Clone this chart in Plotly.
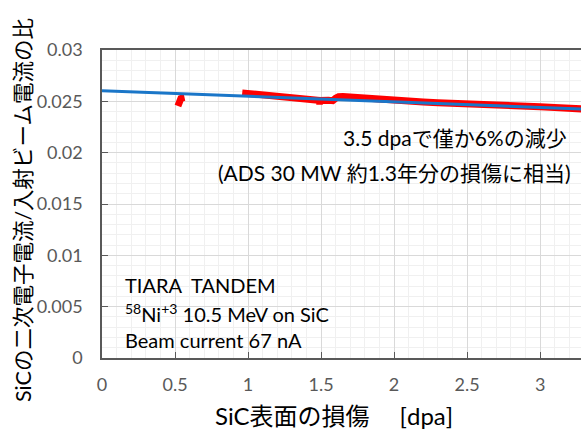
import plotly.graph_objects as go

# Measured data (red): SiC secondary electron current / beam current ratio
dpa_a = [0.52, 0.525, 0.53, 0.54, 0.555, 0.565]
ratio_a = [0.02455, 0.02480, 0.02510, 0.02528, 0.02535, 0.02538]

dpa_b = [0.96, 1.0, 1.05, 1.1, 1.15, 1.2, 1.22, 1.25, 1.3, 1.35, 1.4, 1.45, 1.48, 1.49, 1.5,
         1.55, 1.57, 1.58, 1.6, 1.62, 1.65, 1.7, 1.8, 1.9, 2.0, 2.1, 2.2, 2.3, 2.4, 2.5,
         2.6, 2.7, 2.8, 2.9, 3.0, 3.1, 3.2, 3.3]
ratio_b = [0.02582, 0.02576, 0.02570, 0.02564, 0.02557, 0.02550, 0.02538, 0.02545, 0.02538,
           0.02530, 0.02524, 0.02518, 0.02510, 0.02482, 0.02508, 0.02510, 0.02504, 0.02506,
           0.02530, 0.02545, 0.02548, 0.02542, 0.02533, 0.02515, 0.02508, 0.02500, 0.02493,
           0.02486, 0.02478, 0.02472, 0.02466, 0.02462, 0.02456, 0.02452, 0.02447, 0.02440,
           0.02433, 0.02425]

# Linear fit (blue)
fit_x = [0.0, 3.3]
fit_y = [0.02604, 0.02424]

x_ticks = [0, 0.5, 1, 1.5, 2, 2.5, 3]
x_tick_labels = ["0", "0.5", "1", "1.5", "2", "2.5", "3"]
y_ticks = [0, 0.005, 0.01, 0.015, 0.02, 0.025, 0.03]
y_tick_labels = ["0", "0.005", "0.01", "0.015", "0.02", "0.025", "0.03"]

FONT = "Lato, 'Noto Sans CJK JP', sans-serif"
AX = "#595959"

fig = go.Figure()
for xs, ys in [(dpa_a, ratio_a), (dpa_b, ratio_b)]:
    fig.add_trace(go.Scatter(x=xs, y=ys, mode="lines", line=dict(color="#ff0000", width=7),
                             showlegend=False, hoverinfo="skip"))
fig.add_trace(go.Scatter(x=fit_x, y=fit_y, mode="lines", line=dict(color="#1a76c8", width=3),
                         showlegend=False, hoverinfo="skip"))

fig.update_layout(
    width=581, height=431,
    margin=dict(l=102, r=0, t=50, b=73),
    paper_bgcolor="white", plot_bgcolor="white",
    font=dict(family=FONT, color=AX),
    xaxis=dict(range=[0, 3.28], tickvals=x_ticks, ticktext=x_tick_labels,
               showline=True, linecolor=AX, linewidth=1.5, mirror=True,
               ticks="inside", ticklen=6, tickcolor=AX, tickwidth=1,
               showgrid=True, gridcolor="#d9d9d9", gridwidth=1, zeroline=False,
               tickfont=dict(size=18, color=AX), ticklabelstandoff=10,
               minor=dict(dtick=0.1, showgrid=True, gridcolor="#f0f0f0", gridwidth=1)),
    yaxis=dict(range=[0, 0.03], tickvals=y_ticks, ticktext=y_tick_labels,
               showline=True, linecolor=AX, linewidth=1.5,
               ticks="inside", ticklen=6, tickcolor=AX, tickwidth=1,
               showgrid=True, gridcolor="#d9d9d9", gridwidth=1, zeroline=False,
               tickfont=dict(size=18, color=AX), ticklabelstandoff=14,
               minor=dict(dtick=0.001, showgrid=True, gridcolor="#f0f0f0", gridwidth=1)),
)

ann = []
# axis titles
ann.append(dict(text="SiCの二次電子電流/入射ビーム電流の比", xref="paper", yref="paper",
                x=(23 - 102)/479, y=(358 - 210)/308, xanchor="center", yanchor="middle",
                textangle=-90, showarrow=False, font=dict(size=21.5, color="black", family=FONT)))
ann.append(dict(text="SiC表面の損傷　 [dpa]", xref="paper", yref="paper",
                x=(334 - 102)/479, y=-(415 - 358)/308, xanchor="center", yanchor="middle",
                showarrow=False, font=dict(size=24, color="black", family=FONT)))
# right annotations
ann.append(dict(text="3.5 dpaで僅か6%の減少", xref="paper", yref="paper",
                x=(569 - 102)/479, y=(358 - 137)/308, xanchor="right", yanchor="middle",
                showarrow=False, font=dict(size=21, color="black", family=FONT)))
ann.append(dict(text="(ADS 30 MW 約1.3年分の損傷に相当)", xref="paper", yref="paper",
                x=(573 - 102)/479, y=(358 - 172)/308, xanchor="right", yanchor="middle",
                showarrow=False, font=dict(size=21, color="black", family=FONT)))
# bottom-left info
for txt, yc in [("TIARA  TANDEM", 285), ("<sup>58</sup>Ni<sup>+3</sup> 10.5 MeV on SiC", 313),
                ("Beam current 67 nA", 340)]:
    ann.append(dict(text=txt, xref="paper", yref="paper",
                    x=(123 - 102)/479, y=(358 - yc)/308, xanchor="left", yanchor="middle",
                    showarrow=False, font=dict(size=20, color="black", family=FONT)))
fig.update_layout(annotations=ann)

fig.write_html("out.html", config={"displayModeBar": False},
               post_script="document.body.style.margin='0';")
